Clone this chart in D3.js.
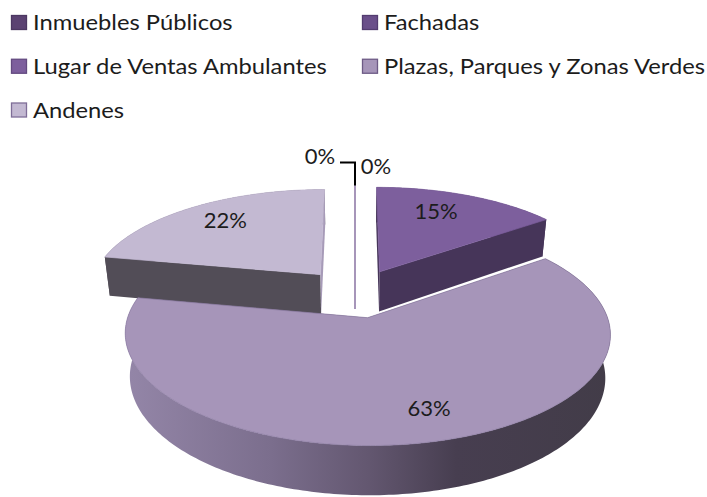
<!DOCTYPE html>
<html>
<head>
<meta charset="utf-8">
<script src="https://cdn.jsdelivr.net/npm/d3@7"></script>
<style>
body { margin: 0; background: #fff; }
text { font-family: Lato, "Open Sans", sans-serif; fill: #1c1c1c; }
</style>
</head>
<body>
<svg id="pie-chart" width="707" height="497"></svg>
<script>
// data
var categories = ["Inmuebles Públicos", "Fachadas", "Lugar de Ventas Ambulantes", "Plazas, Parques y Zonas Verdes", "Andenes"];
var values = [0, 0, 15, 63, 22];
var labels = ["0%", "0%", "15%", "63%", "22%"];

// styles
var topColors = ["#5b4272", "#6a4f8a", "#7d5f9d", "#a695b9", "#c3b9d2"];
var swatchBorders = ["#4c3762", "#533c70", "#634a80", "#6d5a85", "#7f6e98"];
var startColors = ["#a695b9", "#a695b9", "#463559", "#6b5f78", "#524d57"];
var endColors = ["#a695b9", "#a695b9", "#463559", "#6b5f78", "#a79bb8"];
var drawOrder = [4, 2, 0, 1, 3];

// pie projection: plane coords in radius units, u to the right, v towards the viewer
var cx = 355, cy = 293, radius = 232, tilt = 102, persp = 0.1416,
	depth = 41, bottomShrink = 0.98, explode = 0.24;

var svg = d3.select("#pie-chart");

function project(u, v, lower) {
	var s = 1 / (1 - persp * v);
	var x = radius * u * s, y = tilt * v * s;
	if (lower) {
		x *= bottomShrink;
		y += depth * s;
	}
	return [cx + x, cy + y];
}

var pie = d3.pie().sort(null).startAngle(0).endAngle(2 * Math.PI);
var slices = pie(values);

slices.forEach(function(d) {
	var mid = (d.startAngle + d.endAngle) / 2;
	d.ox = explode * Math.sin(mid);
	d.oy = -explode * Math.cos(mid);
	d.mid = mid;
	d.at = function(a, r, lower) {
		return project(d.ox + r * Math.sin(a), d.oy - r * Math.cos(a), lower);
	};
	d.rim = function(lower) {
		var n = Math.max(1, Math.ceil((d.endAngle - d.startAngle) * 60));
		return d3.range(n + 1).map(function(i) {
			return d.at(d.startAngle + (d.endAngle - d.startAngle) * i / n, 1, lower);
		});
	};
});

var line = d3.line();
function closed(pts) { return line(pts) + "Z"; }

// gradient on the big slice's outer wall
var grad = svg.append("defs").append("linearGradient")
	.attr("id", "wall")
	.attr("gradientUnits", "userSpaceOnUse")
	.attr("x1", 125).attr("x2", 612).attr("y1", 0).attr("y2", 0);
grad.append("stop").attr("offset", 0).attr("stop-color", "#9486a8");
grad.append("stop").attr("offset", 0.3).attr("stop-color", "#7b6e8d");
grad.append("stop").attr("offset", 0.5).attr("stop-color", "#635770");
grad.append("stop").attr("offset", 0.68).attr("stop-color", "#473e50");
grad.append("stop").attr("offset", 1).attr("stop-color", "#423c48");

var chart = svg.append("g").attr("class", "pie");

drawOrder.forEach(function(i) {
	var d = slices[i];
	var g = chart.append("g").attr("class", "slice");
	var isBig = d.value === d3.max(values);
	var zero = d.value === 0;

	// outer wall
	if (!zero) {
		g.append("path")
			.attr("d", closed(d.rim(false).concat(d.rim(true).reverse())))
			.attr("fill", isBig ? "url(#wall)" : startColors[i]);
	}

	// the two cut faces
	[[d.startAngle, startColors[i]], [d.endAngle, endColors[i]]].forEach(function(face) {
		g.append("path")
			.attr("d", closed([d.at(0, 0, false), d.at(face[0], 1, false), d.at(face[0], 1, true), d.at(0, 0, true)]))
			.attr("fill", face[1])
			.attr("stroke", zero ? face[1] : "none")
			.attr("stroke-width", 1);
	});

	// top face
	if (!zero) {
		g.append("path")
			.attr("d", closed([d.at(0, 0, false)].concat(d.rim(false))))
			.attr("fill", topColors[i])
			.attr("stroke", isBig ? "#8d7da3" : topColors[i])
			.attr("stroke-width", 0.7);
	}
});

// leader line of the zero slices
var tip = slices[0].at(0, 1, false);
svg.append("path")
	.attr("d", d3.line()([[tip[0] - 15, tip[1] - 23], [tip[0], tip[1] - 23], tip]))
	.attr("fill", "none")
	.attr("stroke", "#000")
	.attr("stroke-width", 2);

// value labels: placed from the slice middle, then nudged
var labelShift = [[-35, -29], [21, -19], [1, -13], [26, 21], [-16, -12]];
function labelPos(d, i) {
	var p = d.value === 0 ? tip : d.at(d.mid, 0.6, false);
	return [p[0] + labelShift[i][0], p[1] + labelShift[i][1]];
}

svg.append("g").selectAll("text")
	.data(slices)
	.enter().append("text")
	.attr("transform", function(d, i) {
		var p = labelPos(d, i);
		return "translate(" + p[0] + "," + p[1] + ")";
	})
	.attr("dy", ".35em")
	.style("text-anchor", "middle")
	.style("font-size", "22px")
	.text(function(d, i) { return labels[i]; });

// legend
var legendX = d3.scaleOrdinal().domain([0, 1]).range([11, 362]);
var legendY = d3.scalePoint().domain([0, 1, 2]).range([22.5, 110]);

var legend = svg.selectAll(".legend")
	.data(categories)
	.enter().append("g")
	.attr("class", "legend")
	.attr("transform", function(d, i) {
		return "translate(" + legendX(i % 2) + "," + legendY(Math.floor(i / 2)) + ")";
	});

legend.append("rect")
	.attr("x", 0.5)
	.attr("y", -7)
	.attr("width", 15)
	.attr("height", 14)
	.style("fill", function(d, i) { return topColors[i]; })
	.style("stroke", function(d, i) { return swatchBorders[i]; })
	.style("stroke-width", 1.3);

legend.append("text")
	.attr("transform", "translate(22,0) scale(1.08,1)")
	.attr("dy", ".35em")
	.style("font-size", "22px")
	.text(function(d) { return d; });
</script>
</body>
</html>
